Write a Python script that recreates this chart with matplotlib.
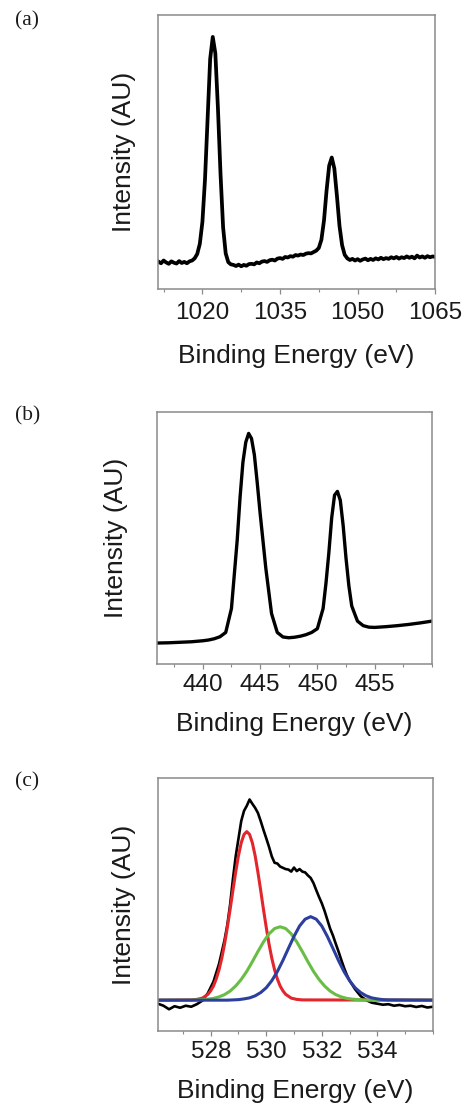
# XPS spectra, three panels (a) (b) (c)

import numpy as np
import matplotlib.pyplot as plt
from matplotlib.ticker import MultipleLocator

plt.rcParams['font.family'] = ['Liberation Sans', 'DejaVu Sans']

# ---- panel (a): 1011.5 .. 1065 eV, 0.5 eV steps ----
a_x = np.arange(1011.5, 1065.01, 0.5)
a_y = [0.100, 0.094, 0.104, 0.097, 0.092, 0.101, 0.096, 0.093, 0.102, 0.095,
       0.099, 0.094, 0.101, 0.104, 0.112, 0.128, 0.165, 0.245, 0.400, 0.620,
       0.840, 0.920, 0.860, 0.660, 0.420, 0.225, 0.130, 0.098, 0.090, 0.088,
       0.084, 0.089, 0.083, 0.088, 0.085, 0.091, 0.092, 0.090, 0.097, 0.094,
       0.100, 0.102, 0.099, 0.105, 0.107, 0.104, 0.111, 0.113, 0.110, 0.117,
       0.115, 0.120, 0.118, 0.124, 0.122, 0.126, 0.124, 0.129, 0.131, 0.130,
       0.135, 0.140, 0.150, 0.180, 0.250, 0.360, 0.450, 0.480, 0.440, 0.340,
       0.230, 0.160, 0.125, 0.112, 0.106, 0.110, 0.104, 0.109, 0.103, 0.108,
       0.111, 0.105, 0.110, 0.106, 0.112, 0.108, 0.114, 0.109, 0.113, 0.110,
       0.116, 0.112, 0.117, 0.111, 0.116, 0.113, 0.119, 0.114, 0.118, 0.112,
       0.122, 0.115, 0.119, 0.114, 0.120, 0.116, 0.119, 0.117]
a_ticks = [1020, 1035, 1050, 1065]

# ---- panel (b) ----
b_x = [436, 437, 438, 439, 440, 440.5, 441, 441.5, 442, 442.5,
       443, 443.25, 443.5, 443.75, 444, 444.25, 444.5, 444.75, 445, 445.5,
       446, 446.5, 447, 447.5, 448, 448.5, 449, 449.5, 450, 450.5,
       450.75, 451, 451.25, 451.5, 451.75, 452, 452.25, 452.5, 452.75, 453,
       453.5, 454, 454.5, 455, 456, 457, 458, 459, 460]
b_y = [0.083, 0.084, 0.086, 0.088, 0.092, 0.095, 0.100, 0.108, 0.125, 0.220,
       0.490, 0.660, 0.800, 0.880, 0.915, 0.895, 0.830, 0.720, 0.600, 0.380,
       0.200, 0.125, 0.107, 0.104, 0.106, 0.110, 0.116, 0.125, 0.140, 0.220,
       0.320, 0.440, 0.580, 0.670, 0.685, 0.650, 0.550, 0.420, 0.310, 0.230,
       0.170, 0.152, 0.146, 0.145, 0.148, 0.152, 0.157, 0.163, 0.170]
b_ticks = [440, 445, 450, 455]

# ---- panel (c): measured + three fitted components ----
c_x = [526.1, 526.3, 526.5, 526.7, 526.9, 527.1, 527.3, 527.5, 527.7, 527.9,
       528.1, 528.3, 528.5, 528.6, 528.7, 528.8, 528.9, 529.0, 529.1, 529.2,
       529.3, 529.4, 529.5, 529.6, 529.7, 529.8, 529.9, 530.0, 530.1, 530.2,
       530.3, 530.4, 530.5, 530.6, 530.7, 530.8, 530.9, 531.0, 531.1, 531.2,
       531.3, 531.4, 531.5, 531.6, 531.7, 531.8, 531.9, 532.0, 532.1, 532.2,
       532.3, 532.4, 532.5, 532.6, 532.7, 532.8, 532.9, 533.0, 533.2, 533.4,
       533.6, 533.8, 534.0, 534.2, 534.4, 534.6, 534.8, 535.0, 535.2, 535.4,
       535.6, 535.8, 536.0]
c_y = [0.108, 0.100, 0.086, 0.098, 0.092, 0.100, 0.096, 0.106, 0.120, 0.150,
       0.195, 0.265, 0.360, 0.420, 0.500, 0.600, 0.690, 0.760, 0.830, 0.870,
       0.890, 0.915, 0.898, 0.882, 0.862, 0.830, 0.795, 0.762, 0.728, 0.690,
       0.665, 0.662, 0.650, 0.645, 0.640, 0.638, 0.630, 0.646, 0.632, 0.640,
       0.630, 0.627, 0.615, 0.605, 0.585, 0.557, 0.530, 0.505, 0.475, 0.440,
       0.405, 0.378, 0.346, 0.315, 0.282, 0.250, 0.222, 0.200, 0.165, 0.138,
       0.122, 0.112, 0.108, 0.104, 0.106, 0.100, 0.103, 0.098, 0.100, 0.095,
       0.099, 0.093, 0.096]
c_ticks = [528, 530, 532, 534]

red_x = [526.1, 527.3, 527.5, 527.7, 527.9, 528.0, 528.1, 528.2, 528.3, 528.4,
         528.5, 528.6, 528.7, 528.8, 528.9, 529.0, 529.1, 529.2, 529.3, 529.4,
         529.5, 529.6, 529.7, 529.8, 529.9, 530.0, 530.1, 530.2, 530.3, 530.4,
         530.5, 530.6, 530.7, 530.9, 531.1, 531.3, 536.0]
red_y = [0.122, 0.123, 0.125, 0.130, 0.145, 0.159, 0.178, 0.206, 0.242, 0.288,
         0.344, 0.410, 0.481, 0.556, 0.628, 0.693, 0.744, 0.777, 0.788, 0.777,
         0.744, 0.693, 0.628, 0.556, 0.481, 0.410, 0.344, 0.288, 0.242, 0.206,
         0.178, 0.159, 0.145, 0.130, 0.125, 0.123, 0.122]

green_x = [526.1, 527.3, 527.5, 527.7, 527.9, 528.1, 528.3, 528.5, 528.7, 528.9,
           529.1, 529.3, 529.5, 529.7, 529.9, 530.1, 530.3, 530.5, 530.7, 530.9,
           531.1, 531.3, 531.5, 531.7, 531.9, 532.1, 532.3, 532.5, 532.7, 532.9,
           533.1, 533.3, 533.5, 533.7, 536.0]
green_y = [0.122, 0.122, 0.123, 0.124, 0.126, 0.129, 0.135, 0.144, 0.158, 0.178,
           0.204, 0.236, 0.274, 0.314, 0.352, 0.384, 0.405, 0.412, 0.405, 0.384,
           0.352, 0.314, 0.274, 0.236, 0.204, 0.178, 0.158, 0.144, 0.135, 0.129,
           0.126, 0.124, 0.123, 0.122, 0.122]

blue_x = [526.1, 528.6, 528.8, 529.0, 529.2, 529.4, 529.6, 529.8, 530.0, 530.2,
          530.4, 530.6, 530.8, 531.0, 531.2, 531.4, 531.6, 531.8, 532.0, 532.2,
          532.4, 532.6, 532.8, 533.0, 533.2, 533.4, 533.6, 533.8, 534.0, 534.2,
          534.4, 536.0]
blue_y = [0.122, 0.122, 0.123, 0.124, 0.127, 0.131, 0.139, 0.152, 0.171, 0.199,
          0.235, 0.279, 0.327, 0.374, 0.415, 0.442, 0.452, 0.442, 0.415, 0.374,
          0.327, 0.279, 0.235, 0.199, 0.171, 0.152, 0.139, 0.131, 0.127, 0.124,
          0.123, 0.122]

SPINE = '#8a8a8a'
TXT = '#1a1a1a'


def style(ax, xlim, ticks, minor, tpad, padx, pady):
    ax.set_xlim(*xlim)
    ax.set_ylim(0, 1)
    ax.set_yticks([])
    ax.set_xticks(ticks)
    ax.xaxis.set_minor_locator(MultipleLocator(minor))
    for s in ax.spines.values():
        s.set_color(SPINE)
        s.set_linewidth(1.1)
    ax.tick_params(axis='x', which='major', direction='out', length=3.5,
                   width=0.9, color=SPINE, labelsize=17.5, labelcolor=TXT,
                   pad=tpad)
    ax.tick_params(axis='x', which='minor', direction='out', length=2.5,
                   width=0.8, color=SPINE)
    ax.set_xlabel('Binding Energy (eV)', fontsize=19, color=TXT, labelpad=padx)
    ax.set_ylabel('Intensity (AU)', fontsize=19, color=TXT, labelpad=pady)


fig = plt.figure(figsize=(4.7, 11.04), dpi=100)

ax1 = fig.add_axes([0.336, 0.7382, 0.590, 0.2482])
ax1.plot(a_x, a_y, color='black', lw=2.7)
style(ax1, (1011.4, 1065), a_ticks, 7.5, 5.5, 15, 16)

ax2 = fig.add_axes([0.334, 0.3986, 0.585, 0.2282])
ax2.plot(b_x, b_y, color='black', lw=2.4, solid_joinstyle='round')
style(ax2, (436, 460), b_ticks, 2.5, 4, 11, 21)

ax3 = fig.add_axes([0.336, 0.0661, 0.585, 0.2292])
ax3.plot(c_x, c_y, color='black', lw=1.9)
ax3.plot(red_x, red_y, color='#e3262b', lw=2.2)
ax3.plot(green_x, green_y, color='#68bd45', lw=2.2)
ax3.plot(blue_x, blue_y, color='#2d3f9e', lw=2.2)
style(ax3, (526.1, 536), c_ticks, 1, 3.5, 12, 16)

for lab, yy in [('(a)', 0.981), ('(b)', 0.623), ('(c)', 0.2917)]:
    fig.text(0.032, yy, lab, fontsize=15.5, family='Liberation Serif',
             color=TXT, va='center', ha='left')

fig.savefig('out.png', dpi=100)
